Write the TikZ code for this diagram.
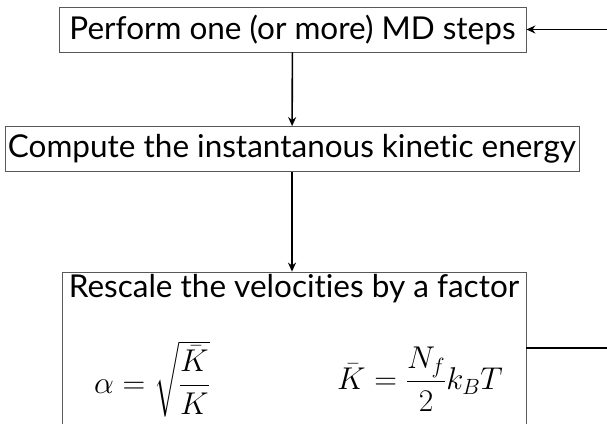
\RequirePackage{fix-cm}
\documentclass[tikz,border=0pt]{standalone}
\usepackage{amsmath}
\usepackage[no-math]{fontspec}
\setmainfont{Lato}[Ligatures=NoCommon]
\usetikzlibrary{arrows.meta}

\begin{document}
\begin{tikzpicture}[x=1pt,y=-1pt,
  box/.style={draw=black!65,line width=0.8pt,inner xsep=3pt,minimum height=45pt},
  flow/.style={line width=1.6pt,-{Stealth[length=9pt,width=8pt]}},
  font=\fontsize{31.5}{36}\selectfont]
\useasboundingbox (0,0) rectangle (607,423);
\clip (0,0) rectangle (607,423);

\node[box,minimum width=467pt] (perform) at (292.5,29.5) {Perform one (or more) MD steps};
\node[box] (compute) at (292,149) {Compute the instantanous kinetic energy};
\node[box,minimum width=464pt,minimum height=152pt] (rescale) at (294,348) {};

\node[anchor=base] (factor) at (294,297) {Rescale the velocities by a factor};
\node (alpha) at (152,379) {$\alpha=\sqrt{\dfrac{\bar K}{K}}$};
\node (kbar) at (420,379) {$\bar K=\dfrac{N_f}{2}k_BT$};

\draw[flow] (perform) -- (compute);
\draw[flow] (compute.south) -- (compute.south |- rescale.north);
\draw[flow] (rescale.east) -- ++(120,0) |- (perform.east);
\end{tikzpicture}
\end{document}
